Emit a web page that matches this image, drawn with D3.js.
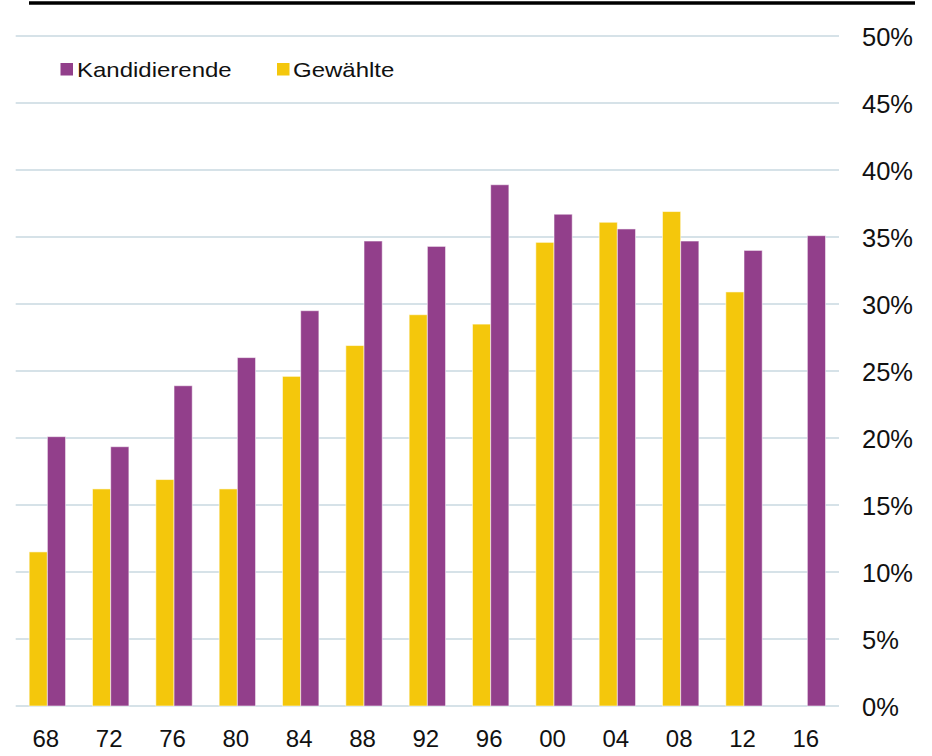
<!DOCTYPE html>
<html>
<head>
<meta charset="utf-8">
<script src="https://cdn.jsdelivr.net/npm/d3@7"></script>
<style>
  html, body { margin: 0; padding: 0; background: #ffffff; }
  svg { display: block; font-family: "Liberation Sans", Arial, sans-serif; }
</style>
</head>
<body>
<svg id="chart" width="932" height="756"></svg>
<script>
const categories = ["68", "72", "76", "80", "84", "88", "92", "96", "00", "04", "08", "12", "16"];
const kandidierende = [20.1, 19.35, 23.9, 26.0, 29.5, 34.7, 34.3, 38.9, 36.7, 35.6, 34.7, 34.0, 35.1];
const gewaehlte = [11.5, 16.2, 16.9, 16.2, 24.6, 26.9, 29.2, 28.5, 34.6, 36.1, 36.9, 30.9, null];
const seriesNames = ["Gewählte", "Kandidierende"];
const yTicks = [0, 5, 10, 15, 20, 25, 30, 35, 40, 45, 50];

const colors = { "Kandidierende": "#923f8b", "Gewählte": "#f4c70c" };

const svg = d3.select("#chart");

const x = d3.scaleBand().domain(categories).range([15.7, 839]).padding(0);
const xSub = d3.scaleBand().domain(seriesNames).range([0, x.bandwidth()]).paddingInner(0).paddingOuter(0.74);
const y = d3.scaleLinear().domain([0, 50]).range([706, 36]);

// top black rule
svg.append("line")
  .attr("x1", 29).attr("x2", 915).attr("y1", 3).attr("y2", 3)
  .attr("stroke", "#000").attr("stroke-width", 3.6);

// gridlines
svg.append("g").selectAll("line").data(yTicks).join("line")
  .attr("x1", 15.7).attr("x2", 839)
  .attr("y1", d => y(d)).attr("y2", d => y(d))
  .attr("stroke", "#c9d8e1").attr("stroke-width", 1.6);

// y labels (right side)
svg.append("g").selectAll("text").data(yTicks).join("text")
  .attr("x", 862).attr("y", d => y(d) + 9.5)
  .attr("font-size", 25.5).attr("fill", "#111")
  .text(d => d + "%");

// bars
const rows = categories.map((c, i) => ({ cat: c, values: [
  { key: "Gewählte", v: gewaehlte[i] },
  { key: "Kandidierende", v: kandidierende[i] }
]}));

const groups = svg.append("g").selectAll("g").data(rows).join("g")
  .attr("transform", d => `translate(${x(d.cat)},0)`);

groups.selectAll("rect").data(d => d.values.filter(e => e.v != null)).join("rect")
  .attr("x", d => xSub(d.key))
  .attr("width", xSub.bandwidth())
  .attr("y", d => y(d.v))
  .attr("height", d => y(0) - y(d.v))
  .attr("fill", d => colors[d.key])
  .attr("stroke", "rgba(255,255,255,0.55)")
  .attr("stroke-width", 1);

// x labels
svg.append("g").selectAll("text").data(categories).join("text")
  .attr("x", d => x(d) + x.bandwidth() / 2 - 1.5)
  .attr("y", 746.5)
  .attr("text-anchor", "middle")
  .attr("font-size", 24).attr("fill", "#111")
  .text(d => d);

// legend
const legendItems = [
  { key: "Kandidierende", sx: 60.5, tx: 77 },
  { key: "Gewählte", sx: 277, tx: 293 }
];
const lg = svg.append("g");
lg.selectAll("rect").data(legendItems).join("rect")
  .attr("x", d => d.sx).attr("y", 63).attr("width", 12.5).attr("height", 12.5)
  .attr("fill", d => colors[d.key]);
lg.selectAll("text").data(legendItems).join("text")
  .attr("transform", d => `translate(${d.tx},76.7) scale(1.2,1)`)
  .attr("font-size", 20).attr("fill", "#111")
  .text(d => d.key);
</script>
</body>
</html>
